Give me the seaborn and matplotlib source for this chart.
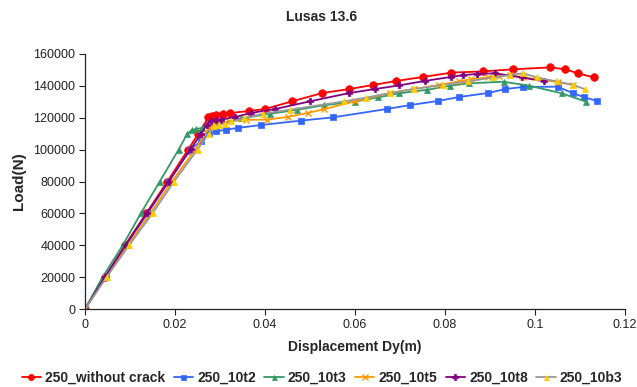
import matplotlib
matplotlib.use("Agg")
import matplotlib.pyplot as plt
import matplotlib.ticker as mticker
import pandas as pd
import seaborn as sns

# load-displacement curves
x_nocrack = [0, 0.0045, 0.0089, 0.0136, 0.0183, 0.0229, 0.0252, 0.0274, 0.0282, 0.0291,
             0.0306, 0.0323, 0.0364, 0.040, 0.046, 0.0527, 0.0587, 0.0641, 0.0692, 0.0751,
             0.0814, 0.0884, 0.0952, 0.1034, 0.1067, 0.1095, 0.1131]
y_nocrack = [0, 20000, 40000, 60000, 80000, 100000, 110000, 120200, 120900, 121700,
             122300, 123000, 124200, 125500, 130300, 135500, 138000, 140600, 143100, 145600,
             148300, 149100, 150400, 151600, 150400, 147900, 145300]

x_10t2 = [0, 0.0046, 0.0091, 0.0139, 0.0186, 0.0233, 0.0258, 0.0275, 0.0291, 0.0313,
          0.0339, 0.039, 0.048, 0.055, 0.0671, 0.0723, 0.0784, 0.0831, 0.0895, 0.0934,
          0.0973, 0.105, 0.1084, 0.1108, 0.1138]
y_10t2 = [0, 20000, 40000, 60000, 80000, 100000, 105200, 110400, 111400, 112500,
          113600, 115400, 118200, 120200, 125500, 128000, 130500, 133000, 135500, 138000,
          139300, 139500, 135500, 133000, 130500]

x_10t3 = [0, 0.0039, 0.0084, 0.0124, 0.0166, 0.0208, 0.0227, 0.0238, 0.0247, 0.026,
          0.0347, 0.0411, 0.0472, 0.0531, 0.0599, 0.0651, 0.0697, 0.0761, 0.0812, 0.0854,
          0.093, 0.0987, 0.106, 0.1113]
y_10t3 = [0, 20000, 40000, 60000, 80000, 100000, 109800, 112500, 112900, 113600,
          119600, 122500, 125000, 127800, 130100, 132800, 135300, 137600, 140100, 141600,
          142600, 140100, 135300, 130100]

x_10t5 = [0, 0.0047, 0.0095, 0.0145, 0.0193, 0.0245, 0.0275, 0.029, 0.032, 0.0358,
          0.0404, 0.045, 0.0495, 0.053, 0.0599, 0.0678, 0.073, 0.0786, 0.0832, 0.0858,
          0.0895, 0.0921, 0.0944, 0.0974, 0.105, 0.1084]
y_10t5 = [0, 20000, 40000, 60000, 80000, 100000, 113600, 116700, 117700, 118700,
          118800, 120500, 123000, 125300, 130300, 135500, 138000, 140600, 142800, 144100,
          145300, 146400, 146800, 145300, 142400, 140600]

x_10t8 = [0, 0.0044, 0.009, 0.0137, 0.0186, 0.0235, 0.0258, 0.027, 0.028, 0.0291,
          0.0302, 0.0334, 0.0369, 0.0423, 0.05, 0.0587, 0.0644, 0.0698, 0.0755, 0.0813,
          0.0841, 0.0872, 0.091, 0.097, 0.1021]
y_10t8 = [0, 20000, 40000, 60000, 80000, 100400, 110000, 115200, 118000, 118300,
          118800, 120500, 123000, 125500, 130300, 135500, 138000, 140300, 143100, 145600,
          146800, 147500, 147900, 145300, 142800]

x_10b3 = [0, 0.0048, 0.0098, 0.015, 0.0198, 0.025, 0.0275, 0.0287, 0.0298, 0.031,
          0.0324, 0.0354, 0.0395, 0.0456, 0.0576, 0.0624, 0.0678, 0.073, 0.0795, 0.0852,
          0.0907, 0.0944, 0.0974, 0.1004, 0.1048, 0.1085, 0.111]
y_10b3 = [0, 20000, 40000, 60000, 80000, 100000, 110000, 114600, 115600, 116300,
          117700, 119600, 122500, 125100, 130300, 132600, 135500, 138000, 140600, 142800,
          145300, 146800, 147900, 145300, 142800, 140600, 138000]

names = ["250_without crack", "250_10t2", "250_10t3", "250_10t5", "250_10t8", "250_10b3"]
xs = [x_nocrack, x_10t2, x_10t3, x_10t5, x_10t8, x_10b3]
ys = [y_nocrack, y_10t2, y_10t3, y_10t5, y_10t8, y_10b3]

colors = ["#ff0000", "#3366ff", "#339966", "#ff9900", "#800080", "#999999"]
face = ["#ff0000", "#3366ff", "#339966", "#ff9900", "#800080", "#ffcc00"]
markers = ["o", "s", "^", "x", "P", "^"]
msizes = [5.5, 4.5, 4.5, 5, 5, 4.5]

sns.set_style("ticks")
plt.rcParams["font.family"] = ["Liberation Sans", "DejaVu Sans"]

fig = plt.figure(figsize=(6.37, 3.87), dpi=100)
ax = fig.add_axes([85 / 637, 1 - 309 / 387, 540 / 637, 255 / 387])

for i, name in enumerate(names):
    df = pd.DataFrame({"x": xs[i], "y": ys[i]})
    sns.lineplot(data=df, x="x", y="y", sort=False, ax=ax, color=colors[i],
                 marker=markers[i], markersize=msizes[i], markerfacecolor=face[i],
                 markeredgecolor=face[i], markeredgewidth=1.0 if markers[i] == "x" else 0.5,
                 linewidth=1.3, label=name, legend=False)

ax.set_xlim(0, 0.12)
ax.set_ylim(0, 160000)
ax.set_xticks([0, 0.02, 0.04, 0.06, 0.08, 0.1, 0.12])
ax.set_yticks(range(0, 160001, 20000))
ax.xaxis.set_major_formatter(mticker.FuncFormatter(lambda v, p: f"{v:g}"))
ax.yaxis.set_major_formatter(mticker.FuncFormatter(lambda v, p: f"{int(v)}"))
ax.tick_params(labelsize=9, length=4, width=0.8, pad=3, colors="#222222")
for s in ["left", "bottom"]:
    ax.spines[s].set_color("#222222")
    ax.spines[s].set_linewidth(0.9)
sns.despine(ax=ax)

ax.set_xlabel("Displacement Dy(m)", fontsize=10, fontweight="bold", labelpad=7)
ax.set_ylabel("Load(N)", fontsize=11, fontweight="bold", labelpad=5)
fig.text(322 / 637, 1 - 17 / 387, "Lusas 13.6", ha="center", va="center",
         fontsize=10, fontweight="bold")

handles, labels = ax.get_legend_handles_labels()
fig.legend(handles, labels, loc="center", bbox_to_anchor=(322 / 637, 1 - 378 / 387),
           ncol=6, frameon=False, prop={"size": 10, "weight": "bold"},
           handlelength=1.4, handletextpad=0.3, columnspacing=0.6, markerscale=0.8)

fig.savefig("out.png", dpi=100)
